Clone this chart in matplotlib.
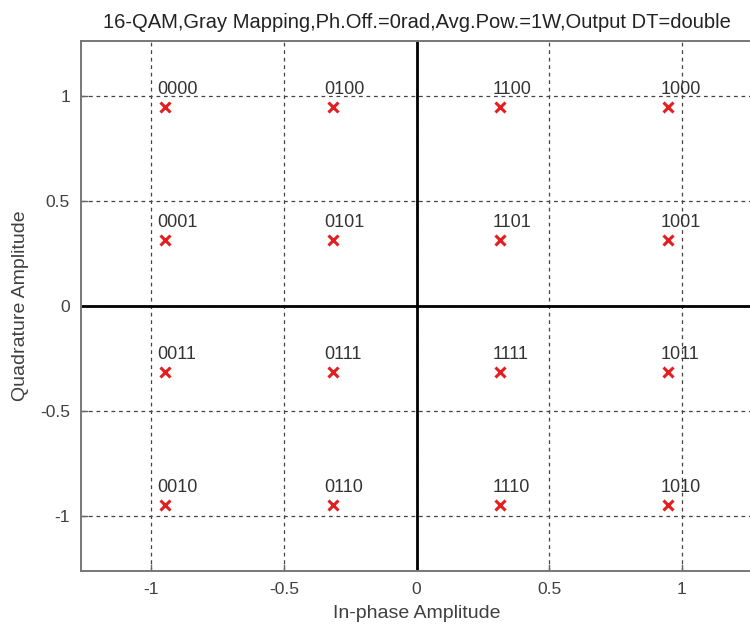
import numpy as np
import matplotlib
matplotlib.use("Agg")
import matplotlib.pyplot as plt

plt.rcParams['font.family'] = ['Liberation Sans', 'DejaVu Sans']

# 16-QAM constellation (unit average power) with Gray-coded labels
i_vals = [-0.9487, -0.3162, 0.3162, 0.9487]
q_vals = [0.9487, 0.3162, -0.3162, -0.9487]
labels = [
    ["0000", "0100", "1100", "1000"],
    ["0001", "0101", "1101", "1001"],
    ["0011", "0111", "1111", "1011"],
    ["0010", "0110", "1110", "1010"],
]
ticks = [-1, -0.5, 0, 0.5, 1]
tick_labels = ["-1", "-0.5", "0", "0.5", "1"]
lim = 1.2649

fig = plt.figure(figsize=(7.5, 6.32), dpi=100)
ax = fig.add_axes([81 / 750, 1 - 571 / 632, (752 - 81) / 750, (571 - 41) / 632])

ax.set_xlim(-lim, lim)
ax.set_ylim(-lim, lim)
ax.set_xticks(ticks)
ax.set_xticklabels(tick_labels)
ax.set_yticks(ticks)
ax.set_yticklabels(tick_labels)

ax.grid(True, linestyle=(0, (3, 3)), color='#444444', linewidth=0.9)
ax.axhline(0, color='black', linewidth=2, zorder=2)
ax.axvline(0, color='black', linewidth=2, zorder=2)

for r, q in enumerate(q_vals):
    for c, i in enumerate(i_vals):
        ax.plot(i, q, marker='x', color='#e41e1e', markersize=7, mew=2.2,
                linestyle='none', zorder=3)
        ax.text(i - 0.03, q + 0.062, labels[r][c], fontsize=13,
                color='#333333', ha='left', va='baseline', zorder=4)

ax.tick_params(direction='in', length=5, width=1, colors='#666666',
               labelcolor='#404040', labelsize=12.5, pad=8)
for s in ax.spines.values():
    s.set_color('#777777')
    s.set_linewidth(1.4)

ax.set_title("16-QAM,Gray Mapping,Ph.Off.=0rad,Avg.Pow.=1W,Output DT=double",
             fontsize=14.5, color='#222222', pad=9)
ax.set_xlabel("In-phase Amplitude", fontsize=14, color='#404040', labelpad=6)
ax.set_ylabel("Quadrature Amplitude", fontsize=14, color='#404040', labelpad=8)

fig.savefig("out.png", dpi=100)
